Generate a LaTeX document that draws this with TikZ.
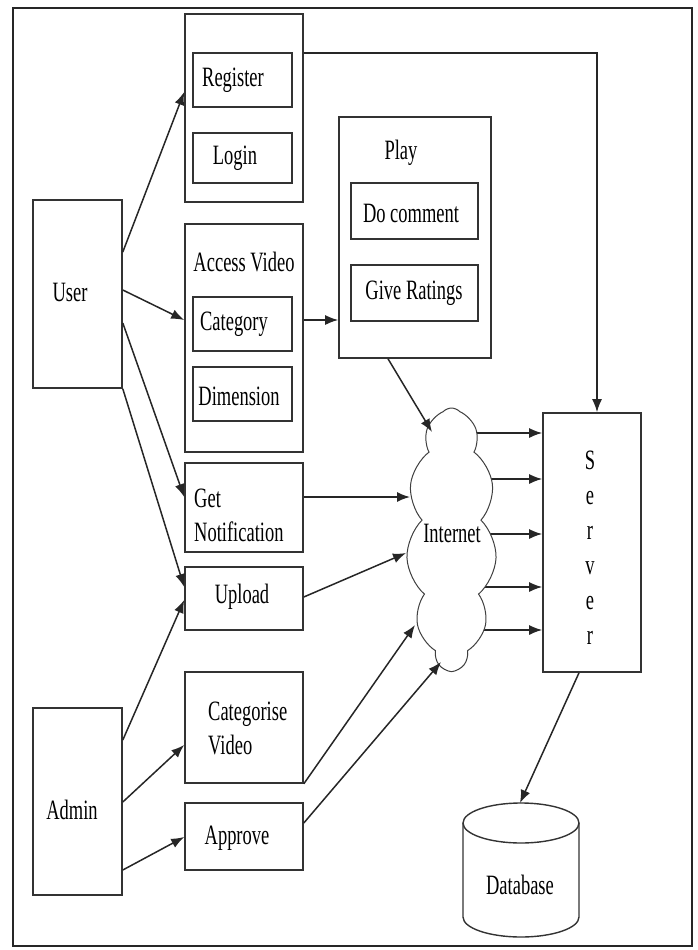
\documentclass[tikz,border=0pt]{standalone}
\usepackage{fontspec}
\setmainfont{Liberation Serif}[FakeStretch=0.66]
\usetikzlibrary{arrows.meta,shapes.symbols,calc,backgrounds}
\begin{document}
\begin{tikzpicture}[x=1pt,y=-1pt,
  box/.style={draw=black!80, line width=1.6pt, inner sep=0pt},
  txt/.style={inner sep=0pt, font=\fontsize{28}{34}\selectfont},
  arr/.style={draw=black!85, line width=1.5pt, -{Latex[length=13pt,width=10pt]}},
  ln/.style={draw=black!85, line width=1.5pt}]
\useasboundingbox (0,0) rectangle (697,950);
\draw[line width=1.8pt, black!85] (13,8) rectangle (692,946);

% user side boxes
\node[box, minimum width=89, minimum height=188] (user) at (77.5,294) {};
\node[txt] (user-t) at (70,292) {User};
\node[box, minimum width=89, minimum height=187] (admin) at (77.5,801.5) {};
\node[txt] (admin-t) at (72,810) {Admin};

% register container
\node[box, minimum width=118, minimum height=188] (regc) at (244,108) {};
\node[box, minimum width=99, minimum height=54] (reg) at (242.5,80) {};
\node[txt] (reg-t) at (233,80) {Register};
\node[box, minimum width=99, minimum height=50] (login) at (242.5,158) {};
\node[txt] (login-t) at (235,158) {Login};

% access video container
\node[box, minimum width=118, minimum height=228] (accc) at (244,338) {};
\node[txt] (accc-t) at (244,262) {Access Video};
\node[box, minimum width=99, minimum height=54] (cat) at (242.5,324) {};
\node[txt] (cat-t) at (234,324) {Category};
\node[box, minimum width=99, minimum height=54] (dim) at (242.5,394) {};
\node[txt] (dim-t) at (239,396) {Dimension};

% other action boxes
\node[box, minimum width=118, minimum height=89] (notif) at (244,507.5) {};
\node[txt, anchor=west, align=left] (notif-t) at (194,515) {Get\\Notification};
\node[box, minimum width=118, minimum height=63] (upload) at (244,598.5) {};
\node[txt] (upload-t) at (242,597) {Upload};
\node[box, minimum width=118, minimum height=111] (catv) at (244,727.5) {};
\node[txt, anchor=west, align=left] (catv-t) at (208,728) {Categorise\\Video};
\node[box, minimum width=118, minimum height=67] (approve) at (244,836.5) {};
\node[txt] (approve-t) at (237,838) {Approve};

% play container
\node[box, minimum width=152, minimum height=241] (playc) at (415,237.5) {};
\node[txt] (playc-t) at (401,153) {Play};
\node[box, minimum width=127, minimum height=56] (doc) at (414.5,211) {};
\node[txt] (doc-t) at (411,213) {Do comment};
\node[box, minimum width=127, minimum height=56] (rate) at (414.5,293) {};
\node[txt] (rate-t) at (414,293) {Give Ratings};

% server
\node[box, minimum width=98, minimum height=259] (server) at (592,542.5) {};
\node[txt, align=center, font=\fontsize{28}{35}\selectfont] (server-t) at (590,547.5) {S\\e\\r\\v\\e\\r};

% cloud
\node[cloud, draw=black!75, line width=1pt, fill=white, cloud puffs=11, cloud puff arc=95,
  aspect=0.35, minimum width=90, minimum height=262, inner sep=0pt] (cloud) at (451.5,539) {};
\node[txt] (cloud-t) at (452,533) {Internet};

% database
\draw[line width=1.4pt, black!80] (463,823) -- (463,917) arc[start angle=180, end angle=0, x radius=58, y radius=20] -- (579,823);
\draw[line width=1.4pt, black!80] (521,823) ellipse[x radius=58, y radius=20];
\coordinate (dbtop) at (520,803);
\node[txt] (db-t) at (520,885) {Database};

% connectors: user
\draw[arr] (user.east |- 0,252) -- (regc.west |- 0,92);
\draw[arr] (user.east |- 0,290) -- (accc.west |- 0,320);
\draw[arr] (user.east |- 0,323) -- (notif.west |- 0,497);
\draw[arr] (user.south east) -- (upload.west |- 0,587);
% admin
\draw[arr] (admin.east |- 0,740) -- (upload.west |- 0,600);
\draw[arr] (admin.east |- 0,802) -- (catv.west |- 0,745);
\draw[arr] (admin.east |- 0,870) -- (approve.west |- 0,837);
% category to play
\draw[arr] (accc.east |- 0,320) -- (playc.west |- 0,320);
% register to server
\draw[arr] (regc.east |- 0,53) -| (server.north -| 597,0);
% into internet
\draw[arr] (playc.south -| 388,0) -- ($(cloud.center)+(-19.5,-107)$);
\draw[arr] (notif.east |- 0,497) -- ($(cloud.center)+(-41.5,-42)$);
\draw[arr] (upload.east |- 0,597) -- ($(cloud.center)+(-45.5,14)$);
\draw[arr] (catv.south east) -- ($(cloud.center)+(-36.5,86)$);
\draw[arr] (approve.east |- 0,823) -- ($(cloud.center)+(-10.5,123)$);
% internet to server
\begin{scope}[on background layer]
\foreach \yy in {433,479,534,587,630}
  \draw[arr] (cloud.center |- 0,\yy) -- (server.west |- 0,\yy);
\end{scope}
% server to database
\draw[arr] (server.south -| 579,0) -- (dbtop);
\end{tikzpicture}
\end{document}
